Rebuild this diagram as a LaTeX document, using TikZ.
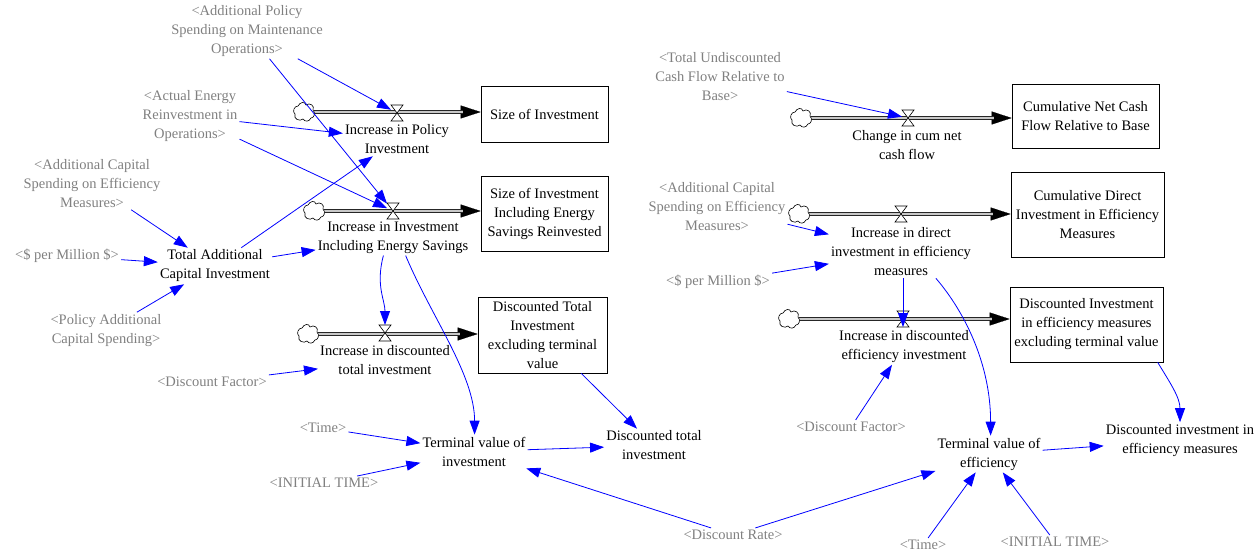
\documentclass[tikz,border=0pt]{standalone}
\usepackage{fontspec}
\setmainfont{Liberation Serif}
\usetikzlibrary{arrows.meta}
\definecolor{shadowgray}{RGB}{128,128,128}
\definecolor{linkblue}{RGB}{0,0,255}
\definecolor{pipefill}{RGB}{200,200,200}

\begin{document}
\begin{tikzpicture}[x=1pt,y=-1pt,
  txt/.style={font=\fontsize{14.5}{19}\selectfont, align=center, inner sep=2pt},
  shadowvar/.style={txt, text=shadowgray},
  stockbox/.style={txt, draw=black, line width=0.7pt, inner sep=0pt},
  cloudpt/.style={minimum width=20pt, minimum height=16pt, inner sep=0pt, outer sep=0pt},
  valvept/.style={minimum width=12pt, minimum height=16pt, inner sep=0pt, outer sep=0pt},
  valveshape/.style={draw=black, fill=white, line width=0.6pt, line join=miter},
  pipe/.style={draw=black!85, line width=0.8pt, double=pipefill, double distance=2.2pt, shorten >=18pt},
  pipehead/.style={draw=black, line width=0.2pt, -{Triangle[length=20pt,width=13pt]}},
  link/.style={draw=linkblue, line width=0.8pt, -{Triangle[length=14pt,width=10pt]}},
  srccloud/.pic={
    \draw[fill=white, line width=0.6pt]
      (-9,2) .. controls (-12,0) and (-10,-6) .. (-6,-6)
             .. controls (-4,-10) and (1,-11) .. (2,-7)
             .. controls (6,-10) and (11,-6) .. (9,-2)
             .. controls (12,1) and (10,6) .. (7,6)
             .. controls (5,10) and (1,10) .. (-1,7)
             .. controls (-4,10) and (-11,7) .. (-9,2) -- cycle;
  },
]
\useasboundingbox (0,0) rectangle (1260,553);

% ---------------- stocks ----------------
\node[stockbox, minimum width=127pt, minimum height=56pt] (s1) at (544.5,114) {Size of Investment};
\node[stockbox, minimum width=127pt, minimum height=75pt] (s2) at (544.5,213.5) {Size of Investment\\Including Energy\\Savings Reinvested};
\node[stockbox, minimum width=129pt, minimum height=76pt] (s3) at (542.5,335) {Discounted Total\\Investment\\excluding terminal\\value};
\node[stockbox, minimum width=147pt, minimum height=64pt] (s4) at (1085.5,116) {Cumulative Net Cash\\Flow Relative to Base};
\node[stockbox, minimum width=153pt, minimum height=85pt] (s5) at (1087.5,214.5) {Cumulative Direct\\Investment in Efficiency\\Measures};
\node[stockbox, minimum width=153pt, minimum height=75pt] (s6) at (1086.5,324.5) {Discounted Investment\\in efficiency measures\\excluding terminal value};

% ---------------- sources (clouds) and valves ----------------
\node[valvept] (v1) at (397,113) {};
\node[valvept] (v2) at (393,211) {};
\node[valvept] (v3) at (385,333) {};
\node[valvept] (v4) at (908,118) {};
\node[valvept] (v5) at (901,214) {};
\node[valvept] (v6) at (903,319) {};

\node[cloudpt] (c1) at (304,112) {};
\node[cloudpt] (c2) at (314,211) {};
\node[cloudpt] (c3) at (308,334) {};
\node[cloudpt] (c4) at (801,118) {};
\node[cloudpt] (c5) at (799,214) {};
\node[cloudpt] (c6) at (789,319) {};

% pipes: arrow tip first, then the double line over it
\foreach \c/\s in {c1/s1,c2/s2,c3/s3,c4/s4,c5/s5,c6/s6}{
  \draw[pipehead] (\c.east) -- (\c.east -| \s.west);
  \draw[pipe] (\c.east) -- (\c.east -| \s.west);
  \pic at (\c) {srccloud};
}
\foreach \v in {v1,v2,v3,v4,v5,v6}{
  \draw[valveshape] (\v.north west) -- (\v.north east) -- (\v.south west) -- (\v.south east) -- cycle;
}

% ---------------- flow names ----------------
\node[txt] (incpol) at (397,139.5) {Increase in Policy\\Investment};
\node[txt] (incinv) at (393,237.5) {Increase in Investment\\Including Energy Savings};
\node[txt] (incdisc) at (385,360.5) {Increase in discounted\\total investment};
\node[txt] (chg) at (907,145) {Change in cum net\\cash flow};
\node[txt] (incdir) at (901,252) {Increase in direct\\investment in efficiency\\measures};
\node[txt] (incdisce) at (904,346.5) {Increase in discounted\\efficiency investment};

% ---------------- auxiliaries and shadow variables ----------------
\node[shadowvar] (addpol) at (247,31) {<Additional Policy\\Spending on Maintenance\\Operations>};
\node[shadowvar] (actual) at (190,116) {<Actual Energy\\Reinvestment in\\Operations>};
\node[shadowvar] (addcap) at (92,183.5) {<Additional Capital\\Spending on Efficiency\\Measures>};
\node[shadowvar] (permil) at (67,256) {<\$ per Million \$>};
\node[txt] (total) at (215,266) {Total Additional\\Capital Investment};
\node[shadowvar] (poladd) at (106,330.5) {<Policy Additional\\Capital Spending>};
\node[shadowvar] (discfac) at (212,382) {<Discount Factor>};
\node[shadowvar] (time) at (323,428) {<Time>};
\node[shadowvar] (init) at (324,483) {<INITIAL TIME>};
\node[txt] (termval) at (474,451.5) {Terminal value of\\investment};
\node[txt] (disctot) at (654,445.5) {Discounted total\\investment};
\node[shadowvar] (discrate) at (733,535) {<Discount Rate>};

\node[shadowvar] (totund) at (720,77) {<Total Undiscounted\\Cash Flow Relative to\\Base>};
\node[shadowvar] (addcap2) at (717,207) {<Additional Capital\\Spending on Efficiency\\Measures>};
\node[shadowvar] (permil2) at (718,282) {<\$ per Million \$>};
\node[shadowvar] (discfac2) at (851,427) {<Discount Factor>};
\node[txt] (termeff) at (989,454) {Terminal value of\\efficiency};
\node[txt] (discinveff) at (1180,440.5) {Discounted investment in\\efficiency measures};
\node[shadowvar] (time2) at (923,545) {<Time>};
\node[shadowvar] (init2) at (1055,542) {<INITIAL TIME>};

% ---------------- links ----------------
\draw[link] (addpol) -- (v1);
\draw[link] (addpol) -- (v2);
\draw[link] (actual) -- (incpol);
\draw[link] (actual) -- (v2);
\draw[link] (addcap) -- (total);
\draw[link] (permil) -- (total);
\draw[link] (poladd) -- (total);
\draw[link] (total) -- (incpol);
\draw[link] (total) -- (incinv);
\draw[link] (incinv.242) .. controls +(-8,30) and +(0,-25) .. (v3.north);
\draw[link] (incinv.305) .. controls +(25,60) and +(0,-60) .. (termval.88);
\draw[link] (discfac) -- (incdisc);
\draw[link] (time) -- (termval);
\draw[link] (init) -- (termval);
\draw[link] (termval) -- (disctot);
\draw[link] (s3) -- (disctot);
\draw[link] (discrate) -- (termval);
\draw[link] (discrate) -- (termeff);

\draw[link] (totund) -- (v4);
\draw[link] (addcap2) -- (incdir);
\draw[link] (permil2) -- (incdir);
\draw[link] (incdir.south -| v6.center) -- (v6.south);
\draw[link] (incdir.323) .. controls +(30,35) and +(0,-70) .. (termeff.85);
\draw[link] (discfac2) -- (incdisce);
\draw[link] (termeff) -- (discinveff);
\draw[link] (s6.332) .. controls +(12,20) and +(0,-25) .. (discinveff.north);
\draw[link] (time2) -- (termeff);
\draw[link] (init2) -- (termeff);
\end{tikzpicture}
\end{document}
